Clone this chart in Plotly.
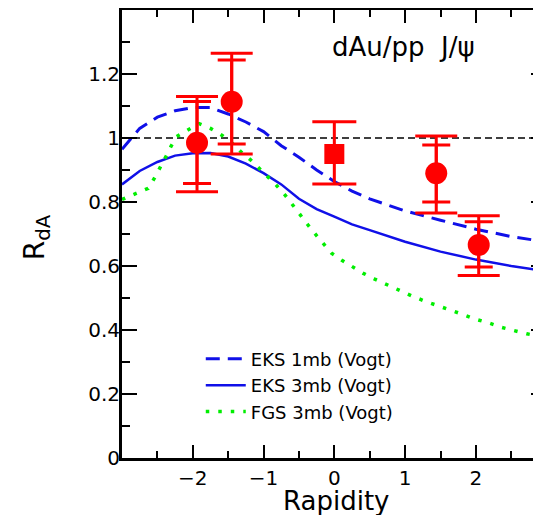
import plotly.graph_objects as go

# ---------------- data ----------------
# measured points (circles)
pt_x = [-1.94, -1.45, 1.44, 2.04]
pt_y = [0.985, 1.113, 0.890, 0.666]
pt_hi_wide = [1.130, 1.265, 1.006, 0.757]
pt_lo_wide = [0.832, 0.950, 0.766, 0.570]
pt_hi_narrow = [1.114, 1.244, 0.978, 0.738]
pt_lo_narrow = [0.858, 0.981, 0.800, 0.597]

# measured point (square)
sq_x = [0.0]
sq_y = [0.950]
sq_hi = [1.051]
sq_lo = [0.856]

# model curves
eks1_x = [-3, -2.75, -2.5, -2.25, -2, -1.75, -1.5, -1.25, -1, -0.75, -0.5, -0.25,
          0, 0.25, 0.5, 0.75, 1, 1.5, 2, 2.5, 3]
eks1_y = [0.965, 1.030, 1.065, 1.085, 1.095, 1.095, 1.075, 1.050, 1.020, 0.976, 0.940, 0.900,
          0.864, 0.834, 0.810, 0.790, 0.772, 0.743, 0.715, 0.692, 0.675]

eks3_x = [-3, -2.75, -2.5, -2.25, -2, -1.75, -1.5, -1.25, -1, -0.75, -0.5, -0.25,
          0, 0.25, 0.5, 0.75, 1, 1.5, 2, 2.5, 3]
eks3_y = [0.855, 0.897, 0.925, 0.945, 0.952, 0.953, 0.942, 0.920, 0.890, 0.855, 0.810, 0.778,
          0.754, 0.730, 0.712, 0.695, 0.676, 0.645, 0.620, 0.600, 0.583]

fgs_x = [-3, -2.8, -2.63, -2.54, -2.46, -2.38, -2.31, -2.23, -2.07, -1.91, -1.75, -1.59,
         -1.45, -1.32, -1.18, -1.06, -0.925, -0.81, -0.69, -0.59, -0.48, -0.375, -0.27,
         -0.15, -0.04, 0.1, 0.26, 0.41, 0.58, 0.75, 0.925, 1.09, 1.28, 1.455, 1.63, 1.81,
         1.99, 2.17, 2.35, 2.535, 2.72, 2.89, 3.0]
fgs_y = [0.808, 0.826, 0.843, 0.875, 0.907, 0.942, 0.973, 1.004, 1.025, 1.045, 1.030, 1.009,
         0.985, 0.957, 0.931, 0.905, 0.877, 0.850, 0.820, 0.790, 0.760, 0.729, 0.700,
         0.670, 0.640, 0.619, 0.598, 0.577, 0.558, 0.540, 0.523, 0.507, 0.490, 0.477, 0.462, 0.449,
         0.434, 0.423, 0.409, 0.398, 0.388, 0.381, 0.377]

x_ticks = [-2, -1, 0, 1, 2]
y_ticks = [0, 0.2, 0.4, 0.6, 0.8, 1.0, 1.2]
y_ticktext = ["0", "0.2", "0.4", "0.6", "0.8", "1", "1.2"]

FONT = "DejaVu Sans"
RED = "#ff0000"
BLUE = "#1010e8"
GREEN = "#00ee00"

fig = go.Figure()

fig.add_trace(go.Scatter(x=eks1_x, y=eks1_y, mode="lines", name="EKS 1mb (Vogt)",
                         line=dict(color=BLUE, width=3, dash="14px,8px")))
fig.add_trace(go.Scatter(x=eks3_x, y=eks3_y, mode="lines", name="EKS 3mb (Vogt)",
                         line=dict(color=BLUE, width=2.5)))
fig.add_trace(go.Scatter(x=fgs_x, y=fgs_y, mode="lines", name="FGS 3mb (Vogt)",
                         line=dict(color=GREEN, width=3.5, dash="3.5px,9px")))

# narrow-cap error bars
fig.add_trace(go.Scatter(
    x=pt_x, y=pt_y, mode="markers", showlegend=False, hoverinfo="skip",
    marker=dict(size=1, color="rgba(0,0,0,0)"),
    error_y=dict(type="data", symmetric=False,
                 array=[h - y for h, y in zip(pt_hi_narrow, pt_y)],
                 arrayminus=[y - l for l, y in zip(pt_lo_narrow, pt_y)],
                 color=RED, thickness=3, width=14)))
# wide-cap error bars + circles
fig.add_trace(go.Scatter(
    x=pt_x, y=pt_y, mode="markers", showlegend=False,
    marker=dict(symbol="circle", size=22, color=RED),
    error_y=dict(type="data", symmetric=False,
                 array=[h - y for h, y in zip(pt_hi_wide, pt_y)],
                 arrayminus=[y - l for l, y in zip(pt_lo_wide, pt_y)],
                 color=RED, thickness=3, width=21)))
# square point
fig.add_trace(go.Scatter(
    x=sq_x, y=sq_y, mode="markers", showlegend=False,
    marker=dict(symbol="square", size=20, color=RED),
    error_y=dict(type="data", symmetric=False,
                 array=[h - y for h, y in zip(sq_hi, sq_y)],
                 arrayminus=[y - l for l, y in zip(sq_lo, sq_y)],
                 color=RED, thickness=3, width=22)))

# right-side ticks without line
fig.add_trace(go.Scatter(x=[None], y=[None], yaxis="y2", showlegend=False, hoverinfo="skip"))

fig.add_hline(y=1.0, line=dict(color="black", width=1.5, dash="7px,4px"), layer="below")

fig.update_layout(
    width=533, height=507,
    margin=dict(l=114, r=0, t=2, b=57, autoexpand=False),
    paper_bgcolor="white", plot_bgcolor="white",
    font=dict(family=FONT, color="black"),
    showlegend=True,
    legend=dict(x=0.188, y=0.262, xanchor="left", yanchor="top",
                bgcolor="rgba(0,0,0,0)", font=dict(family=FONT, size=18, color="black"),
                itemwidth=40, tracegroupgap=0),
    xaxis=dict(range=[-3, 2.92], tickvals=x_ticks, ticks="inside", ticklen=13, tickwidth=2,
               tickcolor="black", showline=True, linecolor="black", linewidth=3,
               mirror="ticks", showgrid=False, zeroline=False, automargin=False,
               tickfont=dict(family=FONT, size=20, color="black"),
               minor=dict(dtick=0.5, tick0=0, ticks="inside", ticklen=7, tickwidth=2,
                          tickcolor="black", showgrid=False)),
    yaxis=dict(range=[0, 1.4], tickvals=y_ticks, ticktext=y_ticktext, ticks="inside",
               ticklen=15, tickwidth=2, tickcolor="black", showline=True, linecolor="black",
               linewidth=3, mirror=False, showgrid=False, zeroline=False, automargin=False,
               ticklabelstandoff=-5,
               tickfont=dict(family=FONT, size=20, color="black"),
               minor=dict(dtick=0.1, tick0=0, ticks="inside", ticklen=8, tickwidth=2,
                          tickcolor="black", showgrid=False)),
    yaxis2=dict(overlaying="y", side="right", matches="y", range=[0, 1.4],
                tickvals=y_ticks, showticklabels=False, ticks="inside", ticklen=10,
                tickwidth=2, tickcolor="black", showline=False, showgrid=False,
                zeroline=False, automargin=False,
                minor=dict(dtick=0.1, tick0=0, ticks="inside", ticklen=6, tickwidth=2,
                           tickcolor="black", showgrid=False)),
    annotations=[
        dict(text="dAu/pp  J/\u03c8", xref="paper", yref="paper", x=0.673, y=0.917,
             xanchor="center", yanchor="middle", showarrow=False,
             font=dict(family=FONT, size=26, color="black")),
        dict(text="Rapidity", xref="paper", yref="paper", x=0.51, y=-0.097,
             xanchor="center", yanchor="middle", showarrow=False,
             font=dict(family=FONT, size=26, color="black")),
        dict(text="R<sub>dA</sub>", xref="paper", yref="paper", x=-0.205, y=0.493,
             xanchor="center", yanchor="middle", showarrow=False, textangle=-90,
             font=dict(family=FONT, size=28, color="black")),
    ],
)

fig.write_html("out.html")
